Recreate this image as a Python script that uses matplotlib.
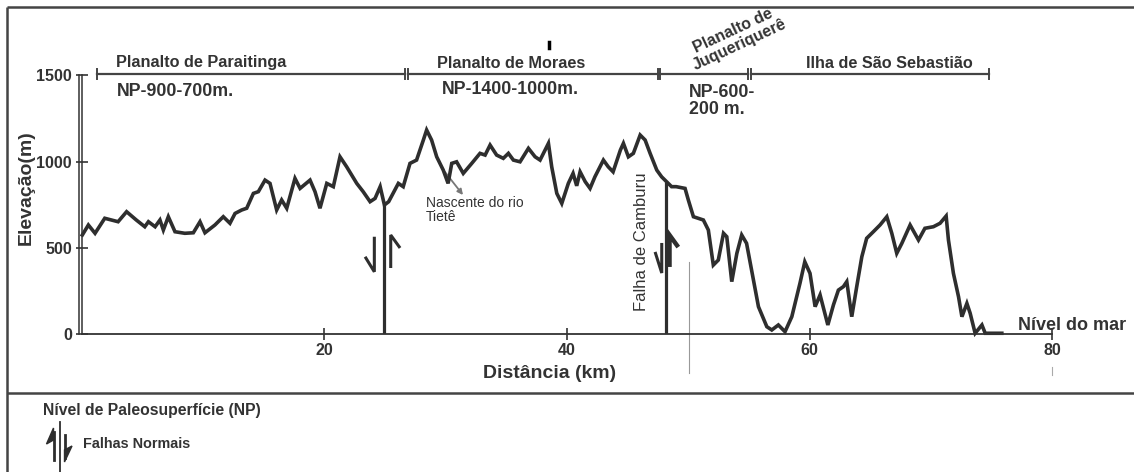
import matplotlib.pyplot as plt

plt.rcParams['font.family'] = ['Liberation Sans', 'DejaVu Sans']

# profile (km along section, elevation in m)
distance_km = [0.05, 0.55, 1.1, 1.9, 3.0, 3.7, 4.5, 5.2, 5.5, 6.05,
               6.45, 6.73, 7.14, 7.69, 8.5, 9.2, 9.75, 10.16, 10.98, 11.67,
               12.22, 12.64, 13.19, 13.6, 14.15, 14.56, 15.11, 15.52, 16.07, 16.48,
               16.9, 17.58, 18.0, 18.82, 19.23, 19.64, 20.2, 20.74, 21.29, 21.84,
               22.67, 23.2, 23.77, 24.18, 24.6, 24.95, 25.3, 26.1, 26.5, 27.06,
               27.6, 28.16, 28.43, 28.84, 29.26, 29.8, 30.2, 30.5, 30.9, 31.45,
               32.15, 32.83, 33.25, 33.66, 34.2, 34.75, 35.17, 35.58, 36.13, 36.82,
               37.37, 37.78, 38.47, 38.74, 39.16, 39.57, 40.11, 40.5, 40.8, 41.08,
               41.5, 41.9, 42.3, 43.0, 43.4, 43.8, 44.4, 44.65, 45.06, 45.47,
               46.03, 46.44, 46.85, 47.4, 47.8, 48.2, 48.62, 49.0, 49.73, 50.0,
               50.42, 51.24, 51.65, 52.06, 52.47, 52.9, 53.17, 53.58, 54.0, 54.4,
               54.8, 55.37, 55.78, 56.47, 56.88, 57.42, 57.97, 58.53, 59.2, 59.6,
               60.03, 60.45, 60.86, 61.5, 61.96, 62.37, 62.78, 63.06, 63.47, 63.88,
               64.3, 64.7, 65.25, 65.8, 66.36, 66.77, 67.18, 67.6, 68.28, 68.97,
               69.5, 70.2, 70.75, 71.25, 71.44, 71.85, 72.27, 72.55, 72.96, 73.23,
               73.64, 74.2, 74.47, 75.84]
elevation_m = [575, 633, 585, 672, 652, 710, 662, 623, 652, 623,
               662, 604, 681, 594, 585, 588, 652, 588, 633, 681,
               643, 700, 720, 730, 816, 826, 893, 874, 720, 778,
               730, 903, 845, 893, 826, 730, 874, 855, 1028, 970,
               874, 826, 768, 787, 855, 749, 768, 874, 855, 990,
               1009, 1125, 1183, 1125, 1028, 951, 874, 990, 999, 932,
               990, 1048, 1038, 1096, 1038, 1019, 1048, 1009, 999, 1077,
               1028, 1009, 1106, 970, 816, 758, 874, 932, 860, 941,
               884, 845, 912, 1009, 970, 941, 1067, 1106, 1028, 1048,
               1154, 1125, 1048, 951, 912, 884, 855, 855, 845, 778,
               681, 662, 604, 401, 430, 585, 565, 305, 469, 575,
               527, 314, 160, 44, 25, 54, 15, 102, 295, 420,
               353, 160, 228, 54, 170, 256, 276, 305, 102, 276,
               449, 556, 594, 633, 681, 585, 469, 527, 633, 546,
               614, 623, 643, 685, 546, 353, 218, 102, 179, 122,
               6, 54, 6, 6]

fault_km = [24.95, 48.2]
fault_top_m = [749, 884]

x_ticks = [20, 40, 60, 80]
y_ticks = [0, 500, 1000, 1500]

region_names = ['Planalto de Paraitinga', 'Planalto de Moraes',
                'Planalto de\nJuqueriquerê', 'Ilha de São Sebastião']
region_start_km = [1.24, 26.9, 47.67, 55.2]
region_end_km = [26.65, 47.5, 54.95, 74.8]
np_labels = ['NP-900-700m.', 'NP-1400-1000m.', 'NP-600-\n200 m.']

W, H = 1134, 472
ink = '#333333'
fig = plt.figure(figsize=(W / 100, H / 100), dpi=100)

# overlay in pixel coordinates for frame, labels, legend
ov = fig.add_axes([0, 0, 1, 1])
ov.set_xlim(0, W)
ov.set_ylim(H, 0)
ov.axis('off')

ax = fig.add_axes([81.7 / W, (H - 334.3) / H, 970.6 / W, 259 / H])
ax.patch.set_alpha(0)
ax.set_xlim(0, 80)
ax.set_ylim(0, 1500)

# frame
frame_kw = dict(color='#444444', lw=1.8, solid_capstyle='butt')
ov.plot([7, W], [7, 7], **frame_kw)
ov.plot([7, 7], [7, H], **frame_kw)
ov.plot([7, W], [393, 393], **frame_kw)

# axes styling
for s in ['top', 'right']:
    ax.spines[s].set_visible(False)
ax.spines['left'].set_color(ink)
ax.spines['bottom'].set_color(ink)
ax.spines['left'].set_linewidth(1.1)
ax.spines['bottom'].set_linewidth(1.3)
ax.plot([-0.22, -0.22], [0, 1500], color=ink, lw=1.1, clip_on=False)

ax.set_xticks(x_ticks)
ax.set_yticks(y_ticks)
ax.tick_params(direction='inout', length=9, width=1.2, colors=ink, labelsize=11.5)
ax.tick_params(axis='y', pad=2.5)
ax.tick_params(axis='x', pad=2)
for lab in ax.get_xticklabels() + ax.get_yticklabels():
    lab.set_fontweight('bold')

ov.text(550, 374, 'Distância (km)', ha='center', va='center', fontsize=14,
        fontweight='bold', color=ink)
ov.text(26, 188, 'Elevação(m)', ha='center', va='center', rotation=90,
        fontsize=14, fontweight='bold', color=ink)

# profile and faults
ax.plot(distance_km, elevation_m, color='#2e2e2e', lw=2.6, clip_on=False,
        solid_joinstyle='miter')
ax.vlines(fault_km, 0, fault_top_m, color='#2e2e2e', lw=2.3)


def half_arrow(x, y_tip, y_tail, bx, by, lw=2.2):
    ax.plot([bx, x, x], [by, y_tip, y_tail], color='#2e2e2e', lw=lw,
            solid_joinstyle='miter', solid_capstyle='butt')


half_arrow(24.12, 362, 565, 23.36, 449)
half_arrow(25.47, 575, 384, 26.24, 500)
half_arrow(47.81, 355, 529, 47.26, 477)
half_arrow(48.45, 575, 390, 49.17, 505, lw=3.2)

# region brackets along the top
for s, e in zip(region_start_km, region_end_km):
    ax.plot([s, e], [1507, 1507], color='#444444', lw=1.6, clip_on=False)
    for xe in (s, e):
        ax.plot([xe, xe], [1478, 1536], color='#444444', lw=1.4, clip_on=False)

label_kw = dict(fontweight='bold', color=ink)
ov.text(201, 63, region_names[0], ha='center', va='center', fontsize=11.7, **label_kw)
ov.text(511, 63, region_names[1], ha='center', va='center', fontsize=11.7, **label_kw)
ov.text(736, 38, region_names[2], ha='center', va='center', fontsize=11.5,
        rotation=25, linespacing=1.0, multialignment='center', **label_kw)
ov.text(889, 63, region_names[3], ha='center', va='center', fontsize=11.7, **label_kw)

ov.text(117, 91, np_labels[0], ha='left', va='center', fontsize=12.8, **label_kw)
ov.text(510, 89, np_labels[1], ha='center', va='center', fontsize=12.8, **label_kw)
ov.text(689, 84, np_labels[2], ha='left', va='top', fontsize=12.8,
        linespacing=1.0, **label_kw)

ov.plot([549, 549], [42, 48], color='black', lw=2.5)

# annotations
ov.text(642, 242, 'Falha de Camburu', ha='center', va='center', rotation=90,
        fontsize=12, color=ink)
ov.text(426, 196, 'Nascente do rio\nTietê', ha='left', va='top', fontsize=10,
        linespacing=1.0, color=ink)
ov.annotate('', xy=(463, 195), xytext=(445, 172),
            arrowprops=dict(arrowstyle='-|>', color='#777777', lw=1.3,
                            mutation_scale=8, shrinkA=0, shrinkB=0))
ov.text(1018, 325, 'Nível do mar', ha='left', va='center', fontsize=13, **label_kw)

ov.plot([689, 689], [262, 373], color='#999999', lw=0.8)
ov.plot([1052, 1052], [367, 375], color='#aaaaaa', lw=0.8)

# legend
ov.text(43, 411, 'Nível de Paleosuperfície (NP)', ha='left', va='center',
        fontsize=11.3, **label_kw)
ov.plot([60, 60], [422, H], color='#2e2e2e', lw=1.3)
ov.plot([53.5, 53.5], [432, 460], color='#2e2e2e', lw=2.0)
ov.fill([53.5, 46.5, 53.5], [428, 444, 440], color='#2e2e2e')
ov.plot([64.5, 64.5], [435, 458], color='#2e2e2e', lw=2.0)
ov.fill([64.5, 72, 64.5], [462, 446, 450], color='#2e2e2e')
ov.text(83, 444, 'Falhas Normais', ha='left', va='center', fontsize=10.4, **label_kw)

fig.savefig('out.png', dpi=100)
